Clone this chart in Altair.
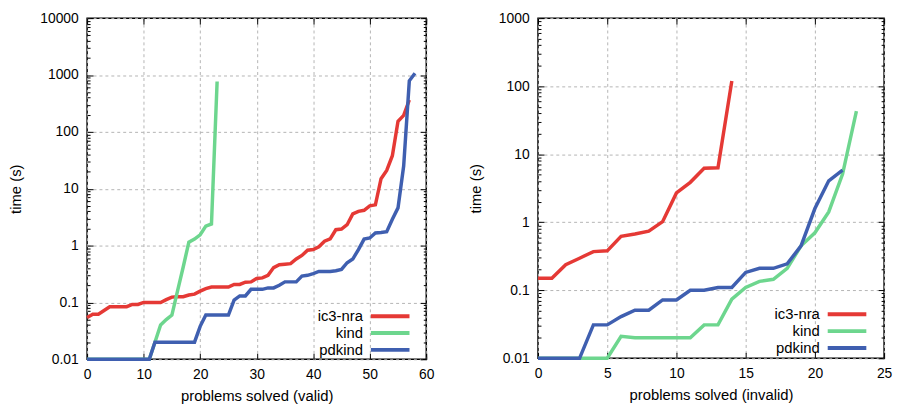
import math
import altair as alt
import pandas as pd

FONT = "Liberation Sans"
SERIES = ["ic3-nra", "kind", "pdkind"]
COLORS = ["#e53935", "#6dd68e", "#3f5fb0"]

# ---- left panel: problems solved (valid) ----
valid_ic3 = [0.054, 0.062, 0.062, 0.072, 0.084, 0.084, 0.084, 0.084, 0.092, 0.092,
             0.1, 0.1, 0.1, 0.1, 0.112, 0.124, 0.126, 0.126, 0.135, 0.14,
             0.158, 0.175, 0.186, 0.186, 0.186, 0.186, 0.207, 0.207, 0.227, 0.23,
             0.264, 0.27, 0.3, 0.41, 0.46, 0.47, 0.48, 0.58, 0.67, 0.83,
             0.85, 0.95, 1.19, 1.31, 1.9, 1.95, 2.33, 3.6, 4.0, 4.17,
             5.0, 5.2, 15, 21, 38, 154, 195, 363]
valid_kind = [0.01, 0.01, 0.01, 0.01, 0.01, 0.01, 0.01, 0.01, 0.01, 0.01,
              0.01, 0.01, 0.02, 0.04, 0.05, 0.06, 0.16, 0.42, 1.15, 1.3,
              1.55, 2.2, 2.4, 770]
valid_pdkind = [0.01, 0.01, 0.01, 0.01, 0.01, 0.01, 0.01, 0.01, 0.01, 0.01,
                0.01, 0.01, 0.02, 0.02, 0.02, 0.02, 0.02, 0.02, 0.02, 0.02,
                0.038, 0.06, 0.06, 0.06, 0.06, 0.06, 0.11, 0.13, 0.13, 0.17,
                0.17, 0.17, 0.18, 0.18, 0.2, 0.23, 0.23, 0.23, 0.29, 0.3,
                0.32, 0.35, 0.35, 0.35, 0.36, 0.38, 0.5, 0.58, 0.85, 1.3,
                1.36, 1.67, 1.7, 1.75, 2.9, 4.6, 25, 790, 1070]

# ---- right panel: problems solved (invalid) ----
invalid_ic3 = [0.15, 0.15, 0.238, 0.296, 0.37, 0.38, 0.62, 0.67, 0.74, 1.02,
               2.7, 3.86, 6.2, 6.3, 119]
invalid_kind = [0.01, 0.01, 0.01, 0.01, 0.01, 0.01, 0.021, 0.02, 0.02, 0.02,
                0.02, 0.02, 0.031, 0.031, 0.074, 0.11, 0.135, 0.145, 0.21, 0.45,
                0.70, 1.42, 5.1, 43]
invalid_pdkind = [0.01, 0.01, 0.01, 0.01, 0.031, 0.031, 0.041, 0.051, 0.051, 0.072,
                  0.072, 0.1, 0.1, 0.11, 0.11, 0.183, 0.21, 0.21, 0.245, 0.45,
                  1.59, 4.07, 5.85]


def to_df(lists):
    rows = []
    for name, vals in zip(SERIES, lists):
        for i, v in enumerate(vals):
            rows.append({"x": i, "t": v, "series": name})
    return pd.DataFrame(rows)


def panel(df, xmax, xstep, ymax, W, H, xtitle, lx, ly, ytp):
    xs = alt.Scale(domain=[0, xmax], nice=False, zero=False)
    ys = alt.Scale(type="log", domain=[0.01, ymax], nice=False)
    xvals = list(range(0, xmax + 1, xstep))
    kmax = int(round(math.log10(ymax)))
    decades = [10.0 ** k for k in range(-2, kmax + 1)]
    minors = [m * 10.0 ** k for k in range(-2, kmax) for m in range(2, 10)]

    main = alt.Chart(df).mark_line(strokeWidth=3.5).encode(
        x=alt.X("x:Q", scale=xs, axis=alt.Axis(
            orient="bottom", values=xvals, format="d", title=xtitle,
            grid=True, ticks=False, tickSize=0, domain=False, labelFlush=False,
            labelPadding=8, titlePadding=8)),
        y=alt.Y("t:Q", scale=ys, axis=alt.Axis(
            orient="left", values=decades, format="~g", title="time (s)",
            grid=True, ticks=False, tickSize=0, domain=False, labelFlush=False,
            labelPadding=9, titlePadding=ytp)),
        color=alt.Color("series:N", scale=alt.Scale(domain=SERIES, range=COLORS),
                        legend=alt.Legend(
                            title=None, orient="none", legendX=lx, legendY=ly,
                            symbolType="M-5,0H5", symbolSize=61, symbolStrokeWidth=4,
                            symbolOpacity=1, labelAlign="right",
                            labelOffset={"expr": "-35"},
                            labelFont=FONT, labelFontSize=15, labelColor="black",
                            rowPadding=0, padding=0)),
    )

    def tick_axis(orient, values, size, off):
        return alt.Axis(orient=orient, values=values, offset={"expr": str(off)},
                        labels=False, grid=False, domain=False, title=None,
                        ticks=True, tickSize=size, tickColor="black", tickWidth=1)

    def ghost(xaxis, yaxis):
        return alt.Chart(df).mark_point(opacity=0, size=1).encode(
            x=alt.X("x:Q", scale=xs, axis=xaxis),
            y=alt.Y("t:Q", scale=ys, axis=yaxis),
        )

    layers = [
        main,
        ghost(tick_axis("top", xvals, 6, -H), tick_axis("right", decades, 6, -W)),
        ghost(None, tick_axis("right", minors, 3, -W)),
        ghost(tick_axis("bottom", xvals, 6, -H), tick_axis("left", decades, 6, -W)),
        ghost(None, tick_axis("left", minors, 3, -W)),
    ]
    return alt.layer(*layers).resolve_axis(x="independent", y="independent").properties(
        width=W, height=H)


left = panel(to_df([valid_ic3, valid_kind, valid_pdkind]), 60, 10, 10000, 343, 345,
             "problems solved (valid)", 299, 294, 16)
right = panel(to_df([invalid_ic3, invalid_kind, invalid_pdkind]), 25, 5, 1000, 350, 344,
              "problems solved (invalid)", 305, 292, 15)

chart = alt.hconcat(left, right, spacing=33).resolve_scale(color="independent").properties(
    padding={"left": 0, "top": 0, "right": 0, "bottom": 0}
).configure_view(stroke="black", strokeWidth=1.5).configure_axis(
    labelFont=FONT, labelFontSize=14, labelColor="black",
    titleFont=FONT, titleFontSize=15, titleFontWeight="normal", titleColor="black",
    gridColor="#b4b4b4", gridDash=[3, 3], gridWidth=1,
)

chart.save("out.html", embed_options={"renderer": "svg", "actions": False})
